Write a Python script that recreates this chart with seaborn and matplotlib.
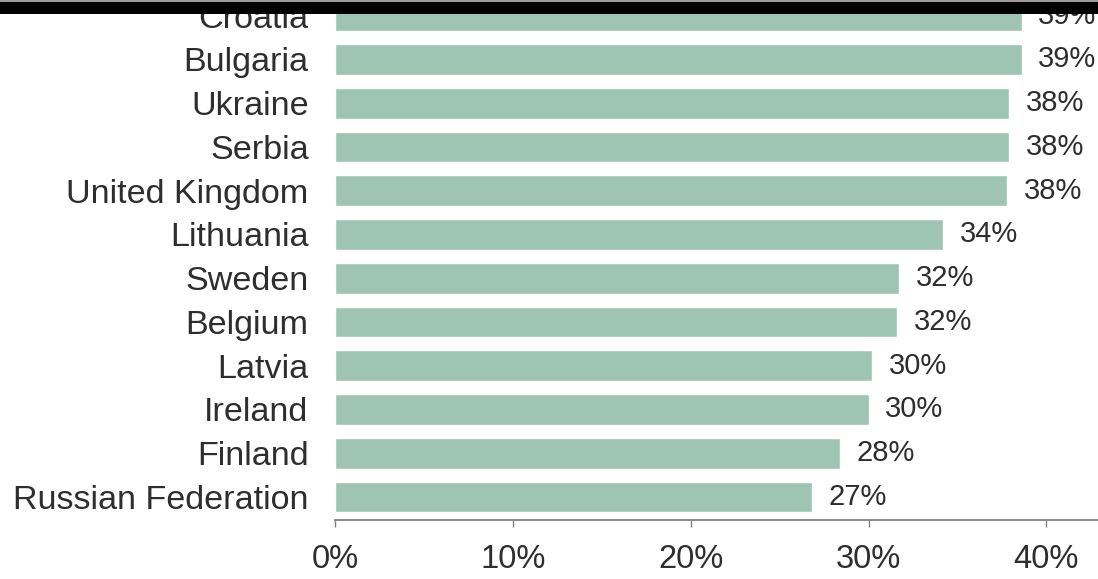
import matplotlib
matplotlib.use("Agg")
import matplotlib.pyplot as plt
from matplotlib.patches import Rectangle
import seaborn as sns
import pandas as pd

countries = ["Croatia", "Bulgaria", "Ukraine", "Serbia", "United Kingdom",
             "Lithuania", "Sweden", "Belgium", "Latvia", "Ireland",
             "Finland", "Russian Federation"]
shares = [38.6, 38.6, 37.9, 37.9, 37.8, 34.2, 31.7, 31.6, 30.2, 30.0, 28.4, 26.8]
xticks = [0, 10, 20, 30, 40]
xtick_labels = ["0%", "10%", "20%", "30%", "40%"]

df = pd.DataFrame({"country": countries, "share": shares})

sns.set_theme(style="white")
plt.rcParams["font.family"] = ["Liberation Sans", "DejaVu Sans"]

fig = plt.figure(figsize=(10.98, 5.79), dpi=100)
ax = fig.add_axes([335 / 1098, 59 / 579, 763 / 1098, 520 / 579])

sns.barplot(data=df, x="share", y="country", orient="h", color="#9ec4b4",
            saturation=1, width=0.7, ax=ax)

text_color = "#2e2e2e"
labels = [f"{v:.0f}%" for v in df["share"]]
ax.bar_label(ax.containers[0], labels=labels, padding=12,
             fontsize=21, color=text_color)

ax.set_xlim(0, 42.9)
ax.set_ylim(11.526, -0.36)
ax.set_xticks(xticks)
ax.set_xticklabels(xtick_labels)
ax.set_xlabel("")
ax.set_ylabel("")

for side in ["top", "right", "left"]:
    ax.spines[side].set_visible(False)
ax.spines["bottom"].set_color("#808080")
ax.spines["bottom"].set_linewidth(1.3)

ax.tick_params(axis="x", bottom=True, length=5, width=1, color="#808080",
               pad=12, labelsize=23.5, labelcolor=text_color)
ax.tick_params(axis="y", left=False, length=0, pad=19,
               labelsize=24.6, labelcolor=text_color)

# dark band across the top edge
fig.add_artist(Rectangle((0, 1 - 14 / 579), 1, 14 / 579, transform=fig.transFigure,
                         facecolor="black", edgecolor="none", zorder=10))
fig.add_artist(Rectangle((0, 1 - 1.5 / 579), 1, 1.5 / 579, transform=fig.transFigure,
                         facecolor="#9a9a9a", edgecolor="none", zorder=11))

fig.savefig("out.png", dpi=100)
